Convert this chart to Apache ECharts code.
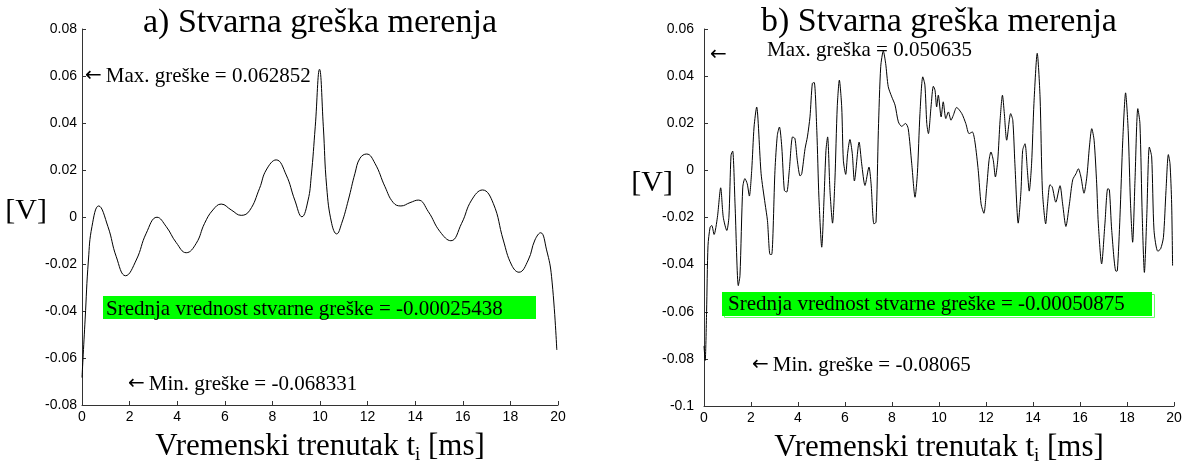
<!DOCTYPE html>
<html>
<head>
<meta charset="utf-8">
<script src="https://cdn.jsdelivr.net/npm/echarts@6/dist/echarts.min.js"></script>
<style>
  html, body { margin: 0; padding: 0; background: #fff; }
  #chart { width: 1188px; height: 462px; }
</style>
</head>
<body>
<div id="chart"></div>
<script>
// a) error signal over one 20 ms window (time in ms, error in V)
const timeA = [0, 0.13, 0.27, 0.42, 0.70, 1.09, 1.44, 1.83, 2.28, 2.70, 3.15, 3.54, 3.96, 4.38, 4.80,
  5.15, 5.50, 5.85, 6.27, 6.69, 7.04, 7.46, 7.74, 8.16, 8.58, 8.94, 9.24, 9.50, 9.63, 9.80, 9.98,
  10.14, 10.28, 10.49, 10.70, 10.91, 11.19, 11.47, 11.68, 11.96, 12.31, 12.73, 13.08, 13.40, 13.78,
  14.13, 14.55, 15.04, 15.50, 15.95, 16.37, 16.83, 17.28, 17.70, 18.05, 18.36, 18.75, 19.03, 19.27,
  19.52, 19.73, 19.95];
const errorA = [-0.068331, -0.0438, -0.0183, -0.0040, 0.0047, -0.0041, -0.0169, -0.0250, -0.0183, -0.0069,
  -0.0001, -0.0041, -0.0109, -0.0152, -0.0112, -0.0027, 0.0030, 0.0055, 0.0030, 0.0007, 0.0027, 0.0122,
  0.0200, 0.0243, 0.0179, 0.0072, 0.0001, 0.0072, 0.0172, 0.0384, 0.062852, 0.0384, 0.0129, -0.0027,
  -0.0072, -0.0027, 0.0072, 0.0186, 0.0250, 0.0268, 0.0228, 0.0129, 0.0061, 0.0047, 0.0061, 0.0072,
  0.0023, -0.0062, -0.0101, -0.0027, 0.0072, 0.0115, 0.0058, -0.0098, -0.0204, -0.0235, -0.0183,
  -0.0098, -0.0067, -0.0140, -0.0254, -0.0566];

// b) error signal, noisier measurement
const timeB = [0, 0.05, 0.11, 0.17, 0.26, 0.33, 0.43, 0.57, 0.71, 0.82, 0.97, 1.06, 1.15, 1.22, 1.32,
  1.46, 1.53, 1.65, 1.74, 1.84, 1.93, 2.03, 2.13, 2.24, 2.43, 2.60, 2.70, 2.81, 2.88, 3.02, 3.12, 3.21,
  3.31, 3.42, 3.52, 3.63, 3.77, 3.87, 3.97, 4.09, 4.16, 4.30, 4.40, 4.51, 4.61, 4.69, 4.80, 4.89, 5.01,
  5.11, 5.19, 5.26, 5.36, 5.47, 5.57, 5.67, 5.76, 5.86, 5.93, 6.03, 6.11, 6.21, 6.31, 6.40, 6.60, 6.71,
  6.85, 7.02, 7.11, 7.23, 7.32, 7.42, 7.52, 7.63, 7.73, 7.84, 7.99, 8.13, 8.27, 8.41, 8.58, 8.69, 8.84,
  8.98, 9.08, 9.19, 9.31, 9.40, 9.48, 9.55, 9.66, 9.76, 9.83, 9.90, 9.97, 10.09, 10.18, 10.29, 10.40,
  10.51, 10.61, 10.75, 10.97, 11.14, 11.28, 11.42, 11.53, 11.67, 11.79, 11.91, 12.03, 12.13, 12.21,
  12.31, 12.40, 12.50, 12.60, 12.70, 12.78, 12.88, 13.05, 13.14, 13.23, 13.37, 13.49, 13.56, 13.66,
  13.76, 13.84, 13.94, 14.04, 14.18, 14.30, 14.40, 14.54, 14.62, 14.72, 14.82, 14.97, 15.15, 15.26,
  15.40, 15.55, 15.69, 15.83, 15.93, 16.04, 16.17, 16.29, 16.40, 16.50, 16.60, 16.71, 16.78, 16.92,
  17.06, 17.18, 17.25, 17.35, 17.53, 17.59, 17.70, 17.82, 17.94, 18.05, 18.15, 18.24, 18.34, 18.46,
  18.55, 18.65, 18.74, 18.84, 18.95, 19.05, 19.15, 19.31, 19.43, 19.55, 19.66, 19.76, 19.83, 19.90, 19.94];
const errorB = [-0.0745, -0.08065, -0.0600, -0.0320, -0.0241, -0.0234, -0.0272, -0.0199, -0.0074, -0.0199,
  -0.0255, -0.0199, 0.0064, 0.0082, -0.0142, -0.0489, -0.0447, -0.0071, -0.0035, -0.0057, -0.0109, 0.0,
  0.0184, 0.0269, -0.0014, -0.0142, -0.0213, -0.0357, -0.0357, 0.0, 0.0149, 0.0184, 0.0099, -0.0085,
  -0.0092, 0.0, 0.0142, 0.0135, 0.0043, -0.0024, -0.0014, 0.0092, 0.0142, 0.0227, 0.0369, 0.0373, 0.0170,
  -0.0114, -0.0326, -0.0114, 0.0085, 0.0142, -0.0085, -0.0224, -0.0043, 0.0269, 0.0383, 0.0269, 0.0043,
  -0.0017, 0.0071, 0.0131, 0.0071, -0.0045, 0.0120, 0.0028, -0.0064, 0.0014, -0.0057, -0.0227, -0.0220,
  0.0170, 0.0440, 0.050635, 0.0454, 0.0355, 0.0312, 0.0277, 0.0206, 0.0187, 0.0199, 0.0177, 0.0028,
  -0.0114, -0.0014, 0.0241, 0.0397, 0.0362, 0.0199, 0.0156, 0.0269, 0.0357, 0.0340, 0.0269, 0.0319,
  0.0227, 0.0291, 0.0220, 0.0248, 0.0213, 0.0234, 0.0267, 0.0241, 0.0199, 0.0156, 0.0163, 0.0120, 0.0,
  -0.0142, -0.0182, -0.0071, 0.0043, 0.0078, 0.0043, -0.0028, 0.0043, 0.0213, 0.0319, 0.0241, 0.0128,
  0.0241, 0.0213, 0.0028, -0.0224, -0.0085, 0.0085, 0.0113, 0.0, -0.0088, 0.0028, 0.0284, 0.0497, 0.0312,
  -0.0085, -0.0227, -0.0142, -0.0061, -0.0071, -0.0135, -0.0065, -0.0142, -0.0238, -0.0142, -0.0040,
  -0.0014, 0.0007, -0.0028, -0.0097, -0.0028, 0.0099, 0.0177, 0.0128, -0.0057, -0.0227, -0.0397, -0.0227,
  -0.0078, -0.0082, -0.0255, -0.0428, -0.0426, -0.0199, 0.0128, 0.0329, 0.0170, -0.0142, -0.0305,
  -0.0043, 0.0262, 0.0199, -0.0199, -0.0433, -0.0199, 0.0099, 0.0057, -0.0255, -0.0343, -0.0333,
  -0.0284, -0.0085, 0.0067, 0.0028, -0.0142, -0.0404];

// axis ranges and tick steps
const xRange = [0, 20];
const xStep = 2;
const yRangeA = [-0.08, 0.08];
const yRangeB = [-0.1, 0.06];
const yStep = 0.02;

// texts
const titleA = 'a) Stvarna greška merenja';
const titleB = 'b) Stvarna greška merenja';
const unitY = '[V]';
const maxTextA = 'Max. greške = 0.062852';
const minTextA = 'Min. greške = -0.068331';
const meanTextA = 'Srednja vrednost stvarne greške = -0.00025438';
const maxTextB = 'Max. greška = 0.050635';
const minTextB = 'Min. greške = -0.08065';
const meanTextB = 'Srednja vrednost stvarne greške = -0.00050875';

const SERIF = '"Liberation Serif", "Times New Roman", serif';
const SANS = '"Liberation Sans", Arial, sans-serif';
const ARROW_FONT = '"DejaVu Sans", sans-serif';

const pairs = (xs, ys) => xs.map((x, i) => [x, ys[i]]);

function xAxisFor(gridIndex) {
  return {
    type: 'value', gridIndex, min: xRange[0], max: xRange[1], interval: xStep,
    name: '{m|Vremenski trenutak t}{s|i}{m| [ms]}',
    nameLocation: 'middle', nameGap: 24,
    nameTextStyle: {
      rich: {
        m: { fontFamily: SERIF, fontSize: 31, lineHeight: 36, color: '#000' },
        s: { fontFamily: SERIF, fontSize: 19, lineHeight: 19, color: '#000', verticalAlign: 'bottom' }
      }
    },
    axisLine: { show: true, onZero: false, lineStyle: { color: '#333', width: 1 } },
    axisTick: { show: true, inside: true, length: 4, lineStyle: { color: '#333' } },
    axisLabel: { fontFamily: SANS, fontSize: 14, color: '#000', margin: 5 },
    splitLine: { show: false }
  };
}

function yAxisFor(gridIndex, range, labelMargin) {
  return {
    type: 'value', gridIndex, min: range[0], max: range[1], interval: yStep,
    axisLine: { show: true, onZero: false, lineStyle: { color: '#333', width: 1 } },
    axisTick: { show: true, inside: true, length: 4, lineStyle: { color: '#333' } },
    axisLabel: {
      fontFamily: SANS, fontSize: 14, color: '#000', margin: labelMargin,
      formatter: v => String(+v.toFixed(2))
    },
    splitLine: { show: false }
  };
}

// annotation text; an optional leading arrow is drawn in a font with a wider arrow glyph
function label(x, y, text, withArrow, size) {
  const fs = size || 21;
  return {
    type: 'text', x, y, z: 10,
    style: {
      text: withArrow ? '{a|←}' + text : text,
      fontFamily: SERIF, fontSize: fs, fill: '#000', verticalAlign: 'middle',
      rich: { a: { fontFamily: ARROW_FONT, fontSize: 20, fill: '#000', padding: [0, 4, 0, 0] } }
    }
  };
}

function unitLabel(x, y) {
  return {
    type: 'text', x, y, z: 10,
    style: { text: unitY, fontFamily: SERIF, fontSize: 30, fill: '#000', align: 'right', verticalAlign: 'middle' }
  };
}

const chart = echarts.init(document.getElementById('chart'), null, { renderer: 'canvas' });
chart.setOption({
  animation: false,
  backgroundColor: '#fff',
  title: [
    { text: titleA, left: 320, top: 6, textAlign: 'center', padding: 0,
      textStyle: { fontFamily: SERIF, fontSize: 34, fontWeight: 'normal', color: '#000' } },
    { text: titleB, left: 939, top: 5, textAlign: 'center', padding: 0,
      textStyle: { fontFamily: SERIF, fontSize: 34, fontWeight: 'normal', color: '#000' } }
  ],
  grid: [
    { left: 82, top: 29, width: 476, height: 376, containLabel: false, outerBoundsMode: 'none' },
    { left: 704, top: 29, width: 470, height: 377, containLabel: false, outerBoundsMode: 'none' }
  ],
  xAxis: [xAxisFor(0), xAxisFor(1)],
  yAxis: [yAxisFor(0, yRangeA, 5), yAxisFor(1, yRangeB, 10)],
  series: [
    { type: 'line', xAxisIndex: 0, yAxisIndex: 0, data: pairs(timeA, errorA),
      showSymbol: false, smooth: 0.45, lineStyle: { color: '#000', width: 1 } },
    { type: 'line', xAxisIndex: 1, yAxisIndex: 1, data: pairs(timeB, errorB),
      showSymbol: false, smooth: 0.25, lineStyle: { color: '#000', width: 1 } }
  ],
  graphic: [
    unitLabel(47, 211),
    unitLabel(673, 183),
    // panel a) annotations
    label(85, 76, maxTextA, true),
    { type: 'rect', z: 5, shape: { x: 103, y: 296, width: 433, height: 23 }, style: { fill: '#00ff00' } },
    label(106, 309, meanTextA),
    label(128, 384, minTextA, true),
    // panel b) annotations
    label(710, 55, '', true),
    label(767, 50, maxTextB),
    { type: 'rect', z: 4, shape: { x: 724.5, y: 294.5, width: 430, height: 23 },
      style: { fill: 'none', stroke: '#66ff66', lineWidth: 1 } },
    { type: 'rect', z: 5, shape: { x: 722, y: 292, width: 430, height: 24 }, style: { fill: '#00ff00' } },
    label(728, 304, meanTextB),
    label(752, 365, minTextB, true)
  ]
});
</script>
</body>
</html>
